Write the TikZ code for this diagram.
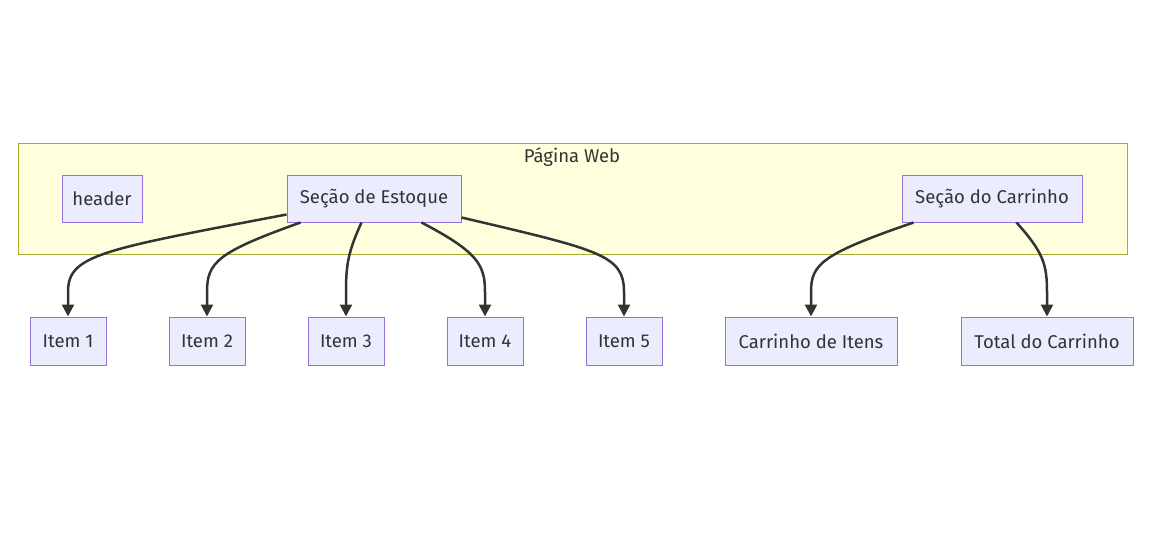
\documentclass[tikz,border=0pt]{standalone}
\usepackage{fontspec}
\setmainfont{Fira Sans}
\usetikzlibrary{arrows.meta,calc}
\definecolor{nodefill}{HTML}{ECECFF}
\definecolor{nodeline}{HTML}{9370DB}
\definecolor{clfill}{HTML}{FFFFDE}
\definecolor{clline}{HTML}{AAAA33}
\definecolor{edge}{HTML}{333333}
\tikzset{
  txt/.style={font=\fontsize{18.5pt}{20pt}\selectfont, text=edge},
  box/.style={txt, draw=nodeline, fill=nodefill, line width=1pt, minimum height=47pt, inner sep=0pt},
  conn/.style={draw=edge, line width=2.5pt, -{Triangle[length=12pt,width=12pt]}}
}
\begin{document}
\begin{tikzpicture}[x=1pt,y=-1pt]
\useasboundingbox (0,0) rectangle (1152,542);
\node[draw=clline, fill=clfill, line width=1pt, minimum width=1109pt, minimum height=111pt, inner sep=0pt] (cl) at (572.5,198.5) {};
\node[txt] (title) at (572,157) {Página Web};
\node[box, minimum width=80pt] (hd) at (102,198.5) {header};
\node[box, minimum width=174pt] (es) at (374,198.5) {Seção de Estoque};
\node[box, minimum width=180pt] (cs) at (992,198.5) {Seção do Carrinho};
\node[box, minimum width=76pt, minimum height=48pt] (i1) at (68,341) {Item 1};
\node[box, minimum width=76pt, minimum height=48pt] (i2) at (207,341) {Item 2};
\node[box, minimum width=76pt, minimum height=48pt] (i3) at (346,341) {Item 3};
\node[box, minimum width=76pt, minimum height=48pt] (i4) at (485,341) {Item 4};
\node[box, minimum width=76pt, minimum height=48pt] (i5) at (624,341) {Item 5};
\node[box, minimum width=172pt, minimum height=48pt] (ci) at (811,341) {Carrinho de Itens};
\node[box, minimum width=172pt, minimum height=48pt] (tc) at (1047,341) {Total do Carrinho};
\draw[conn] ($(es.south west)+(0,-8)$) .. controls (100,250) and (68,255) .. (68,292) -- (i1.north);
\draw[conn] ($(es.south west)+(14,0)$) .. controls (218,252) and (207,262) .. (207,292) -- (i2.north);
\draw[conn] ($(es.south west)+(75,0)$) .. controls (348,252) and (346,265) .. (346,292) -- (i3.north);
\draw[conn] ($(es.south west)+(135,0)$) .. controls (478,252) and (485,265) .. (485,292) -- (i4.north);
\draw[conn] ($(es.south east)+(0,-5)$) .. controls (600,250) and (624,255) .. (624,292) -- (i5.north);
\draw[conn] ($(cs.south west)+(12,0)$) .. controls (822,254) and (811,264) .. (811,292) -- (ci.north);
\draw[conn] ($(cs.south west)+(115,0)$) .. controls (1043,252) and (1047,264) .. (1047,292) -- (tc.north);
\end{tikzpicture}
\end{document}
